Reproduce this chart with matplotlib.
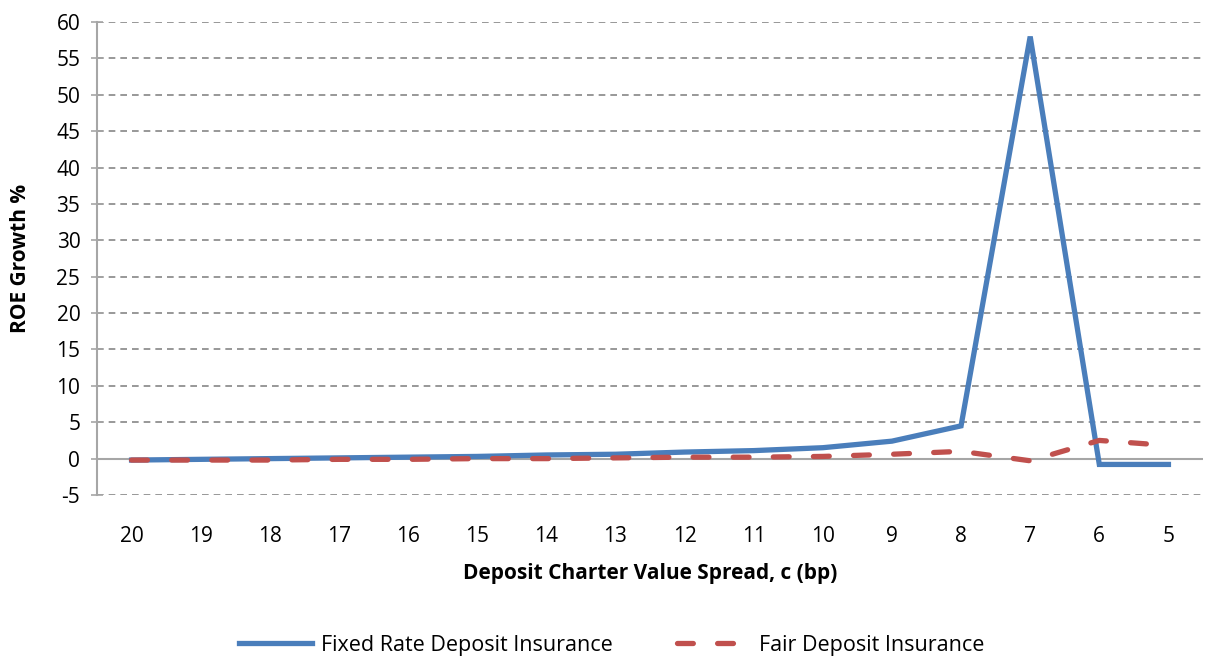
import matplotlib.pyplot as plt
import numpy as np

# Données
spread = [20, 19, 18, 17, 16, 15, 14, 13, 12, 11, 10, 9, 8, 7, 6, 5]
fixed_rate = [-0.2, -0.1, 0.0, 0.1, 0.2, 0.3, 0.5, 0.6, 0.9, 1.1, 1.5, 2.4, 4.5, 58.0, -0.8, -0.8]
fair = [-0.2, -0.2, -0.2, -0.1, -0.1, 0.0, 0.0, 0.1, 0.2, 0.2, 0.3, 0.6, 1.0, -0.3, 2.5, 1.8]

plt.rcParams['font.family'] = ['Open Sans', 'DejaVu Sans']
plt.rcParams['axes.unicode_minus'] = False

fig = plt.figure(figsize=(12.23, 6.61), dpi=100)
ax = fig.add_axes([97 / 1223, 1 - 495 / 661, (1203 - 97) / 1223, (495 - 22) / 661])

x = np.arange(len(spread))
ax.plot(x, fixed_rate, color='#4a7ebb', lw=3.8, solid_joinstyle='miter',
        label='Fixed Rate Deposit Insurance', zorder=3)
ax.plot(x, fair, color='#c0504d', lw=3.8, ls=(0, (3, 4.6)), dash_capstyle='round',
        label='Fair Deposit Insurance', zorder=4)

ax.set_xlim(-0.5, len(spread) - 0.5)
ax.set_ylim(-5, 60)
ax.set_yticks(range(-5, 61, 5))
ax.set_xticks(x)
ax.set_xticklabels([str(s) for s in spread])

# grille pointillée
for yv in range(-5, 61, 5):
    if yv != 0:
        ax.axhline(yv, color='#868686', lw=1.2, ls=(0, (4, 3)), zorder=1)
ax.axhline(0, color='#a6a6a6', lw=1.5, zorder=2)

for s in ['top', 'right', 'bottom']:
    ax.spines[s].set_visible(False)
ax.spines['left'].set_color('#a6a6a6')
ax.spines['left'].set_linewidth(1.5)
ax.tick_params(axis='y', colors='#a6a6a6', labelcolor='black', length=8, width=1.2,
               labelsize=15, direction='inout', pad=8)
ax.tick_params(axis='x', length=0, labelsize=15, pad=22)

ax.set_ylabel('ROE Growth %', fontsize=15, fontweight='bold', labelpad=18)
ax.set_xlabel('Deposit Charter Value Spread, c (bp)', fontsize=15, fontweight='bold', labelpad=12)

fig.legend(loc='center', bbox_to_anchor=(0.5, 1 - 645 / 661), ncol=2, frameon=False,
           fontsize=15.5, handlelength=3.4, handletextpad=0.4, columnspacing=3)

fig.savefig('out.png', dpi=100)
